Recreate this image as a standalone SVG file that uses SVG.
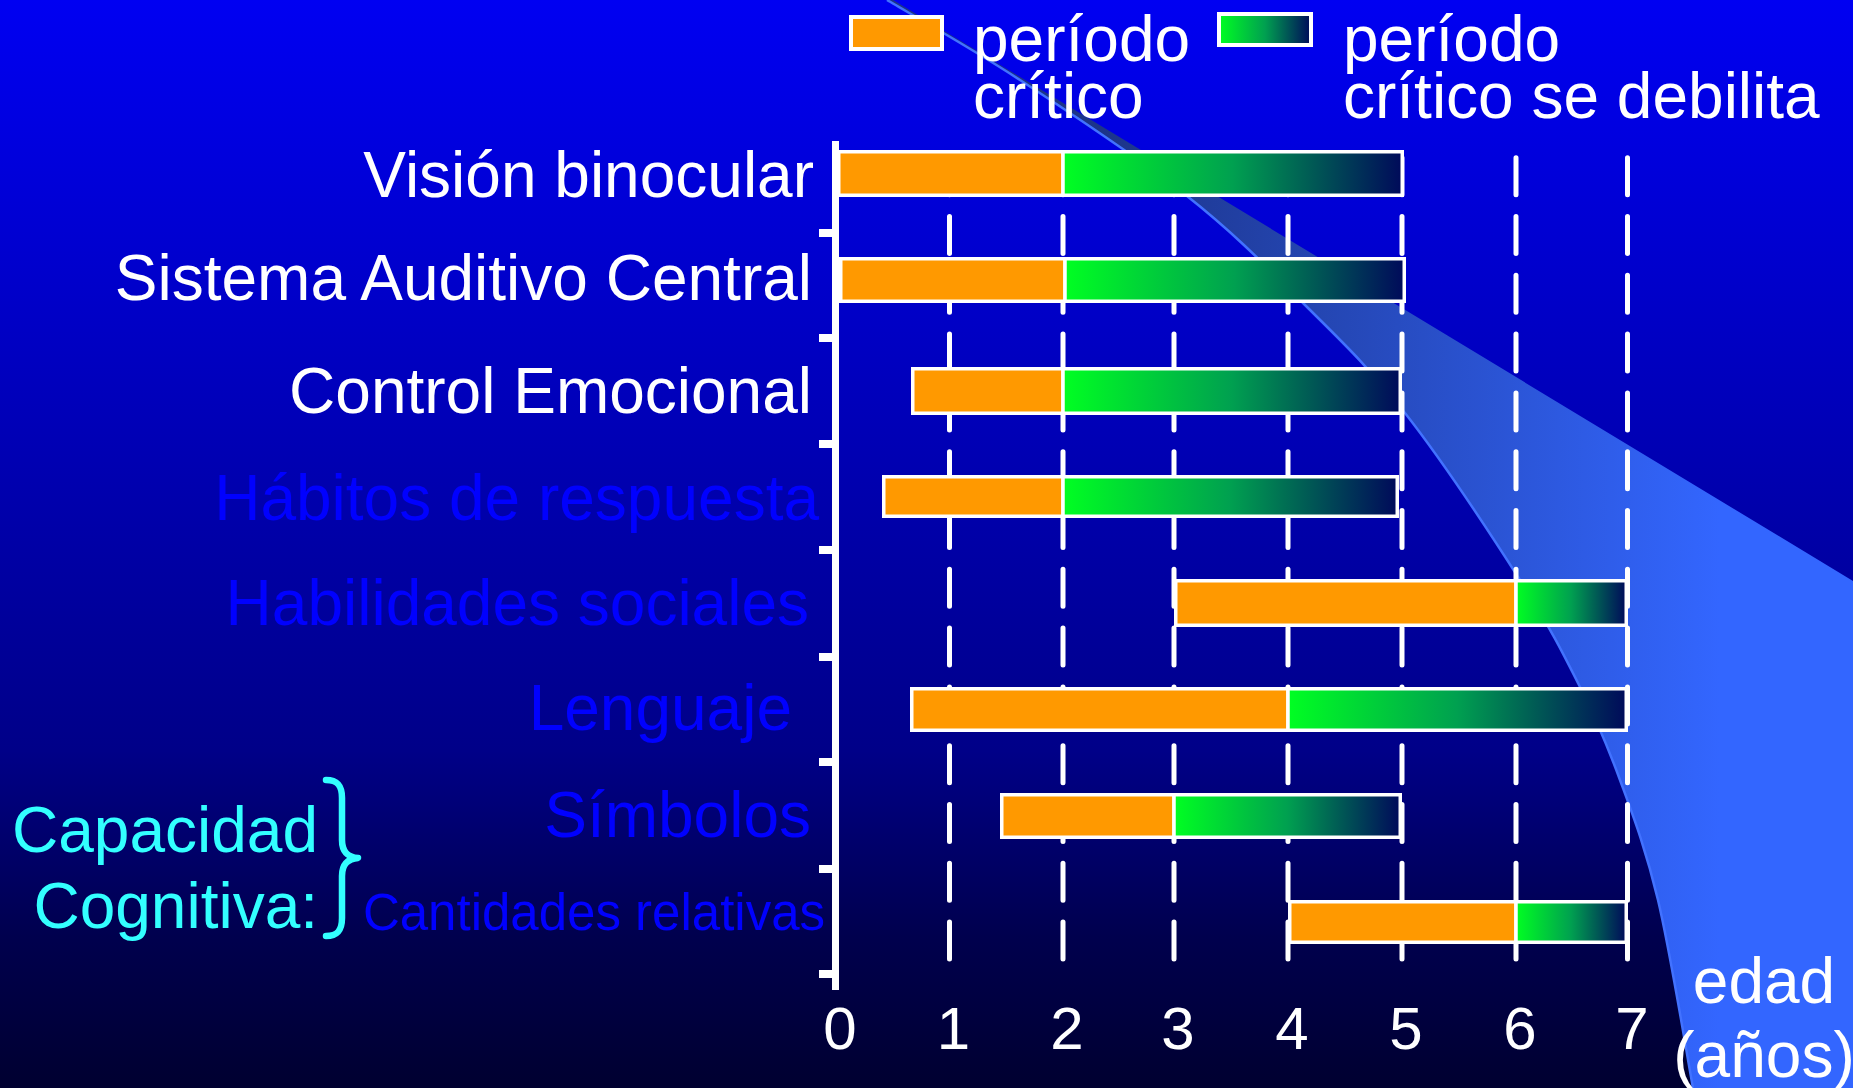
<svg xmlns="http://www.w3.org/2000/svg" width="1853" height="1088" viewBox="0 0 1853 1088">
<defs>
<linearGradient id="bg" x1="0" y1="0" x2="0" y2="1088" gradientUnits="userSpaceOnUse">
<stop offset="0" stop-color="#0000F2"/>
<stop offset="0.41" stop-color="#0000B4"/>
<stop offset="0.69" stop-color="#000088"/>
<stop offset="0.86" stop-color="#00004E"/>
<stop offset="1" stop-color="#000030"/>
</linearGradient>
<linearGradient id="swoosh" x1="1100" y1="0" x2="1720" y2="0" gradientUnits="userSpaceOnUse">
<stop offset="0" stop-color="#1C3488"/>
<stop offset="1" stop-color="#3366FF"/>
</linearGradient>
<linearGradient id="green" x1="0" y1="0" x2="1" y2="0">
<stop offset="0" stop-color="#00FF22"/>
<stop offset="0.5" stop-color="#00A050"/>
<stop offset="1" stop-color="#000A5A"/>
</linearGradient>
<style>
.lbl{font-family:"Liberation Sans",Arial,sans-serif;font-size:64px}
.w{fill:#FFFFFF}
.b{fill:#0000FF}
.c{fill:#33FFFF}
.num{font-family:"Liberation Sans",Arial,sans-serif;font-size:60px;fill:#FFFFFF;text-anchor:middle}
.end{text-anchor:end}
.or{fill:#FF9900;stroke:#FFFFFF;stroke-width:3.5}
.gr{fill:url(#green);stroke:#FFFFFF;stroke-width:3.5}
.dash{stroke:#FFFFFF;stroke-width:5;stroke-dasharray:37 21.8;stroke-linecap:round;fill:none}
.tick{fill:#FFFFFF}
</style>
</defs>
<rect x="0" y="0" width="1853" height="1088" fill="url(#bg)"/>
<g id="swoosh-shape">
<path d="M887 0 C909.2 13.3 970 47.3 1020 80 C1070 112.7 1139.8 158.8 1187 196 C1234.2 233.2 1266.7 266.8 1303 303 C1339.3 339.2 1368.8 366.8 1405 413 C1441.2 459.2 1490.8 534.3 1520 580 C1549.2 625.7 1563.3 653.7 1580 687 C1596.7 720.3 1607 744.5 1620 780 C1633 815.5 1645.8 848.7 1658 900 C1670.2 951.3 1687.2 1056.7 1693 1088 L1853 1088 L1853 581 L893 0 Z" fill="url(#swoosh)"/>
<path d="M887 0 C909.2 13.3 970 47.3 1020 80 C1070 112.7 1139.8 158.8 1187 196 C1234.2 233.2 1266.7 266.8 1303 303 C1339.3 339.2 1368.8 366.8 1405 413 C1441.2 459.2 1490.8 534.3 1520 580 C1549.2 625.7 1563.3 653.7 1580 687 C1596.7 720.3 1607 744.5 1620 780 C1633 815.5 1645.8 848.7 1658 900 C1670.2 951.3 1687.2 1056.7 1693 1088" fill="none" stroke="#4272FF" stroke-width="2.5"/>
</g>
<g id="connectors">
<line class="dash" x1="949.5" y1="157.7" x2="949.5" y2="959"/>
<line class="dash" x1="1063" y1="157.7" x2="1063" y2="959"/>
<line class="dash" x1="1174" y1="157.7" x2="1174" y2="959"/>
<line class="dash" x1="1288" y1="157.7" x2="1288" y2="959"/>
<line class="dash" x1="1402" y1="157.7" x2="1402" y2="959"/>
<line class="dash" x1="1516" y1="157.7" x2="1516" y2="959"/>
<line class="dash" x1="1627.5" y1="157.7" x2="1627.5" y2="959"/>
</g>
<g id="bar-vision">
<rect class="or" x="838.75" y="151.75" width="224.25" height="43.5"/>
<rect class="gr" x="1063" y="151.75" width="339.25" height="43.5"/>
</g>
<g id="bar-auditivo">
<rect class="or" x="840.75" y="258.75" width="224.25" height="42.5"/>
<rect class="gr" x="1065" y="258.75" width="339.25" height="42.5"/>
</g>
<g id="bar-emocional">
<rect class="or" x="912.75" y="368.75" width="150.25" height="44.5"/>
<rect class="gr" x="1063" y="368.75" width="337.25" height="44.5"/>
</g>
<g id="bar-habitos">
<rect class="or" x="883.75" y="476.75" width="179.25" height="39.5"/>
<rect class="gr" x="1063" y="476.75" width="334.25" height="39.5"/>
</g>
<g id="bar-habilidades">
<rect class="or" x="1175.75" y="580.75" width="340.25" height="44.5"/>
<rect class="gr" x="1516" y="580.75" width="110.25" height="44.5"/>
</g>
<g id="bar-lenguaje">
<rect class="or" x="911.75" y="688.75" width="376.25" height="41.5"/>
<rect class="gr" x="1288" y="688.75" width="338.25" height="41.5"/>
</g>
<g id="bar-simbolos">
<rect class="or" x="1001.75" y="794.75" width="172.25" height="42.5"/>
<rect class="gr" x="1174" y="794.75" width="226.25" height="42.5"/>
</g>
<g id="bar-cantidades">
<rect class="or" x="1289.75" y="901.75" width="226.25" height="40.5"/>
<rect class="gr" x="1516" y="901.75" width="110.25" height="40.5"/>
</g>
<g id="axis">
<rect class="tick" x="832" y="141" width="7" height="849"/>
<rect class="tick" x="819" y="229" width="16" height="8"/>
<rect class="tick" x="819" y="334" width="16" height="8"/>
<rect class="tick" x="819" y="440" width="16" height="8"/>
<rect class="tick" x="819" y="546" width="16" height="8"/>
<rect class="tick" x="819" y="653" width="16" height="8"/>
<rect class="tick" x="819" y="758" width="16" height="8"/>
<rect class="tick" x="819" y="865" width="16" height="8"/>
<rect class="tick" x="819" y="970" width="16" height="8"/>
</g>
<g id="axis-numbers">
<text class="num" x="840" y="1049">0</text>
<text class="num" x="953.5" y="1049">1</text>
<text class="num" x="1067" y="1049">2</text>
<text class="num" x="1178" y="1049">3</text>
<text class="num" x="1292" y="1049">4</text>
<text class="num" x="1406" y="1049">5</text>
<text class="num" x="1520" y="1049">6</text>
<text class="num" x="1632" y="1049">7</text>
</g>
<g id="axis-title">
<text class="lbl w" text-anchor="middle"><tspan x="1764" y="1003">edad</tspan><tspan x="1764" y="1077">(años)</tspan></text>
</g>
<g id="labels">
<text class="lbl w end" x="814" y="197">Visión binocular</text>
<text class="lbl w end" x="812" y="300">Sistema Auditivo Central</text>
<text class="lbl w end" x="812" y="413">Control Emocional</text>
<text class="lbl b end" x="819" y="520">Hábitos de respuesta</text>
<text class="lbl b end" x="809" y="625">Habilidades sociales</text>
<text class="lbl b end" x="792" y="730">Lenguaje</text>
<text class="lbl b end" x="811" y="837">Símbolos</text>
<text class="lbl b end" x="825" y="930" style="font-size:51px">Cantidades relativas</text>
</g>
<g id="group-label">
<text class="lbl c end"><tspan x="318" y="852">Capacidad</tspan><tspan x="318" y="928">Cognitiva:</tspan></text>
<path d="M326 780 C338 780 342 786 342 798 L342 840 C342 852 348 857 358 858 C348 859 342 864 342 876 L342 918 C342 930 338 936 326 936" fill="none" stroke="#33FFFF" stroke-width="6.5" stroke-linecap="round" stroke-linejoin="round"/>
</g>
<g id="legend-critico">
<rect x="851" y="17" width="91" height="32" fill="#FF9900" stroke="#FFFFFF" stroke-width="4"/>
<text class="lbl w"><tspan x="973" y="61">período</tspan><tspan x="973" y="118">crítico</tspan></text>
</g>
<g id="legend-debilita">
<rect x="1219" y="14" width="92" height="31" fill="url(#green)" stroke="#FFFFFF" stroke-width="4"/>
<text class="lbl w"><tspan x="1343" y="61">período</tspan><tspan x="1343" y="118">crítico se debilita</tspan></text>
</g>
</svg>
